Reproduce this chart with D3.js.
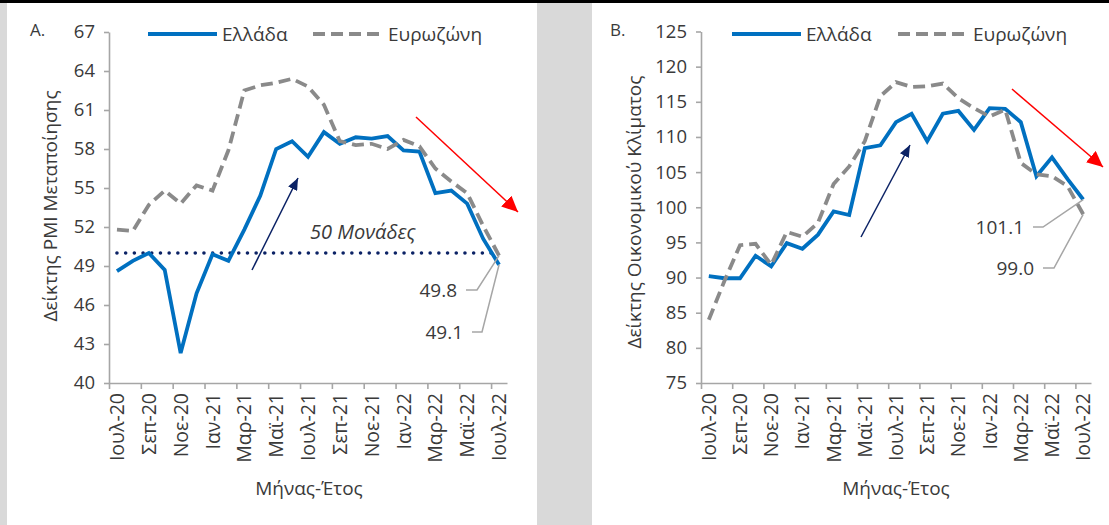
<!DOCTYPE html>
<html><head><meta charset="utf-8">
<script src="https://cdn.jsdelivr.net/npm/d3@7"></script>
<style>
html,body{margin:0;padding:0;background:#fff;}
svg text{font-family:"Open Sans",sans-serif;fill:#3a3a3a;}
</style></head><body>
<svg id="c" width="1109" height="525"></svg>
<script>
const months = ["Ιουλ-20","Αυγ-20","Σεπ-20","Οκτ-20","Νοε-20","Δεκ-20","Ιαν-21","Φεβ-21","Μαρ-21","Απρ-21","Μαϊ-21","Ιουν-21","Ιουλ-21","Αυγ-21","Σεπ-21","Οκτ-21","Νοε-21","Δεκ-21","Ιαν-22","Φεβ-22","Μαρ-22","Απρ-22","Μαϊ-22","Ιουν-22","Ιουλ-22"];
const tickMonths = ["Ιουλ-20","Σεπ-20","Νοε-20","Ιαν-21","Μαρ-21","Μαϊ-21","Ιουλ-21","Σεπ-21","Νοε-21","Ιαν-22","Μαρ-22","Μαϊ-22","Ιουλ-22"];
const seriesNames = ["Ελλάδα","Ευρωζώνη"];

const pmiGreece   = [48.6,49.4,50.0,48.7,42.3,46.9,49.9,49.4,51.8,54.4,58.0,58.6,57.4,59.3,58.4,58.9,58.8,59.0,57.9,57.8,54.6,54.8,53.8,51.1,49.1];
const pmiEurozone = [51.8,51.7,53.7,54.8,53.8,55.2,54.8,57.9,62.5,62.9,63.1,63.4,62.8,61.4,58.6,58.3,58.4,58.0,58.7,58.2,56.5,55.5,54.6,52.1,49.8];
const pmiTicks = [40,43,46,49,52,55,58,61,64,67];

const esiGreece   = [90.2,89.9,89.9,93.1,91.6,94.9,94.1,96.1,99.4,98.9,108.4,108.8,112.1,113.3,109.4,113.3,113.7,111.0,114.1,114.0,112.1,104.4,107.1,104.0,101.1];
const esiEurozone = [84.0,89.5,94.6,94.8,91.8,96.5,95.8,97.8,103.3,105.8,109.4,115.8,117.8,117.1,117.2,117.6,115.5,114.1,112.9,113.9,106.3,104.7,104.4,103.0,99.0];
const esiTicks = [75,80,85,90,95,100,105,110,115,120,125];

const thresholdValue = 50;
const thresholdLabel = "50 Μονάδες";
const xTitle = "Μήνας-Έτος";

const svg = d3.select("#c");
const AX = "#a6a6a6", BLUE = "#0070c0", GRAY = "#8a8a8a", NAVY = "#0b2265", RED = "#ff0000";

// background panels
svg.append("rect").attr("x",0).attr("y",0).attr("width",1109).attr("height",525).attr("fill","#fff");
svg.append("rect").attr("x",0).attr("y",0).attr("width",7).attr("height",525).attr("fill","#d9d9d9");
svg.append("rect").attr("x",537).attr("y",0).attr("width",55).attr("height",525).attr("fill","#d9d9d9");
svg.append("rect").attr("x",0).attr("y",0).attr("width",1109).attr("height",3).attr("fill","#000");

const defs = svg.append("defs");
defs.append("marker").attr("id","mNavy").attr("viewBox","0 0 12 10").attr("refX",12).attr("refY",5)
  .attr("markerWidth",12).attr("markerHeight",10).attr("markerUnits","userSpaceOnUse").attr("orient","auto")
  .append("path").attr("d","M0,0 L12,5 L0,10 Z").attr("fill",NAVY);
defs.append("marker").attr("id","mRed").attr("viewBox","0 0 16 15").attr("refX",16).attr("refY",7.5)
  .attr("markerWidth",16).attr("markerHeight",15).attr("markerUnits","userSpaceOnUse").attr("orient","auto")
  .append("path").attr("d","M0,0 L16,7.5 L0,15 Z").attr("fill",RED);

function drawPanel(cfg){
  const x = d3.scaleBand().domain(months).range(cfg.xr);
  const xi = d3.scaleLinear().domain([0, months.length]).range(cfg.xr);
  const y = d3.scaleLinear().domain(cfg.yd).range(cfg.yr);
  const cx = m => x(m) + x.bandwidth()/2;
  const g = svg.append("g");

  // letter
  g.append("text").attr("x",cfg.letterX).attr("y",36).attr("font-size",17).text(cfg.letter);

  // y axis
  const ya = g.append("g").attr("transform",`translate(${cfg.xr[0]},0)`)
    .call(d3.axisLeft(y).tickValues(cfg.ticks).tickSize(5).tickSizeOuter(0).tickPadding(9));
  ya.selectAll("path.domain").attr("stroke",AX).attr("stroke-width",1.6);
  ya.selectAll(".tick line").attr("stroke",AX).attr("stroke-width",1.6);
  ya.selectAll("text").attr("font-size",18.5).attr("font-family","Open Sans").attr("fill","#3a3a3a");

  // x axis tick marks at band boundaries
  const xm = g.append("g").attr("transform",`translate(0,${cfg.yr[0]})`)
    .call(d3.axisBottom(xi).tickValues(d3.range(0, months.length, 2)).tickSize(6).tickSizeOuter(0).tickFormat(""));
  xm.selectAll("path.domain").attr("stroke",AX).attr("stroke-width",1.6);
  xm.selectAll(".tick line").attr("stroke",AX).attr("stroke-width",1.6);

  // x axis labels at band centres
  const xl = g.append("g").attr("transform",`translate(0,${cfg.yr[0]})`)
    .call(d3.axisBottom(x).tickValues(tickMonths).tickSize(0));
  xl.select("path.domain").remove();
  xl.selectAll("text").attr("transform","rotate(-90)").attr("x",-10).attr("y",0).attr("dy","0.36em")
    .attr("text-anchor","end").attr("font-size",19.5).attr("font-family","Open Sans").attr("fill","#3a3a3a");

  // axis titles
  g.append("text").attr("transform",`translate(${cfg.yTitleX},${cfg.yTitleY}) rotate(-90)`)
    .attr("text-anchor","middle").attr("font-size",19).text(cfg.yTitle);
  g.append("text").attr("x",cfg.xTitleX).attr("y",495).attr("text-anchor","middle").attr("font-size",19).text(xTitle);

  // threshold
  if (cfg.threshold !== undefined){
    g.append("line").attr("x1",cx(months[0])).attr("x2",cx(months[months.length-1]))
      .attr("y1",y(cfg.threshold)).attr("y2",y(cfg.threshold))
      .attr("stroke",NAVY).attr("stroke-width",3.6).attr("stroke-linecap","round").attr("stroke-dasharray","0 8.7");
    g.append("text").attr("x",cfg.threshLabelX).attr("y",y(cfg.threshold)-14).attr("font-size",20)
      .attr("font-style","italic").attr("fill","#1a1a1a").text(thresholdLabel);
  }

  const line = d3.line().x((d,i)=>cx(months[i])).y(d=>y(d));
  g.append("path").datum(cfg.greece).attr("d",line).attr("fill","none").attr("stroke",BLUE)
    .attr("stroke-width",3.8).attr("stroke-linejoin","miter");
  g.append("path").datum(cfg.euro).attr("d",line).attr("fill","none").attr("stroke",GRAY)
    .attr("stroke-width",3.8).attr("stroke-dasharray","12 6");

  // arrows
  g.append("line").attr("x1",cfg.navy[0]).attr("y1",cfg.navy[1]).attr("x2",cfg.navy[2]).attr("y2",cfg.navy[3])
    .attr("stroke",NAVY).attr("stroke-width",1.5).attr("marker-end","url(#mNavy)");
  g.append("line").attr("x1",cfg.red[0]).attr("y1",cfg.red[1]).attr("x2",cfg.red[2]).attr("y2",cfg.red[3])
    .attr("stroke",RED).attr("stroke-width",1.5).attr("marker-end","url(#mRed)");

  // legend
  const lg = g.append("g");
  lg.append("line").attr("x1",cfg.leg[0]).attr("x2",cfg.leg[0]+69).attr("y1",34).attr("y2",34)
    .attr("stroke",BLUE).attr("stroke-width",3.8);
  lg.append("text").attr("x",cfg.leg[0]+74).attr("y",40.5).attr("font-size",19).text(seriesNames[0]);
  lg.append("line").attr("x1",cfg.leg[1]).attr("x2",cfg.leg[1]+69).attr("y1",34).attr("y2",34)
    .attr("stroke",GRAY).attr("stroke-width",3.8).attr("stroke-dasharray","12 6");
  lg.append("text").attr("x",cfg.leg[1]+75).attr("y",40.5).attr("font-size",19).text(seriesNames[1]);

  // end labels with leader lines
  const last = months[months.length-1];
  const lx = cx(last);
  cfg.labels.forEach(L => {
    const v = L.series[L.series.length-1];
    g.append("text").attr("x",L.tx).attr("y",L.ty+6.5).attr("text-anchor","end").attr("font-size",19).text(d3.format(".1f")(v));
    g.append("polyline").attr("points",`${L.tx+9},${L.ty} ${L.tx+L.hx},${L.ty} ${lx},${y(v)}`)
      .attr("fill","none").attr("stroke",AX).attr("stroke-width",1.5);
  });
}

drawPanel({
  letter:"A.", letterX:30,
  xr:[109,507], yd:[40,67], yr:[383,32], ticks:pmiTicks,
  greece:pmiGreece, euro:pmiEurozone,
  yTitle:"Δείκτης PMI Μεταποίησης", yTitleX:57, yTitleY:206, xTitleX:309,
  threshold:thresholdValue, threshLabelX:310,
  navy:[252,270,298,178], red:[416,117,518,212],
  leg:[148,313],
  labels:[{series:pmiEurozone, tx:457, ty:290, hx:20},{series:pmiGreece, tx:463, ty:332, hx:19}]
});

drawPanel({
  letter:"B.", letterX:610,
  xr:[701,1091], yd:[75,125], yr:[383,31.5], ticks:esiTicks,
  greece:esiGreece, euro:esiEurozone,
  yTitle:"Δείκτης Οικονομικού Κλίματος", yTitleX:641, yTitleY:212, xTitleX:896,
  navy:[861,237,910,145], red:[1012,89,1103,167],
  leg:[732,898],
  labels:[{series:esiGreece, tx:1024, ty:227, hx:19},{series:esiEurozone, tx:1034, ty:268, hx:20}]
});
</script>
</body></html>
